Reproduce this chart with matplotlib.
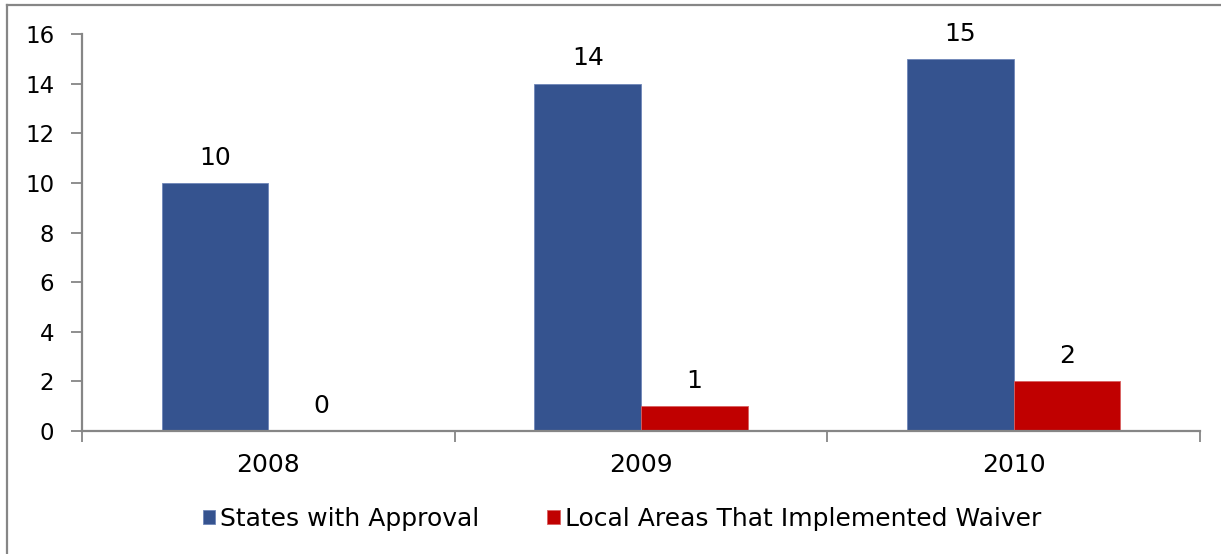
import matplotlib
matplotlib.use("Agg")
import matplotlib.pyplot as plt
from matplotlib.lines import Line2D
import numpy as np

years = ["2008", "2009", "2010"]
states_with_approval = [10, 14, 15]
local_areas_waiver = [0, 1, 2]
series_names = ["States with Approval", "Local Areas That Implemented Waiver"]
y_ticks = [0, 2, 4, 6, 8, 10, 12, 14, 16]

blue = "#35538F"
red = "#C00000"
axis_gray = "#868686"

W, H = 1221, 554
fig = plt.figure(figsize=(W / 100, H / 100), dpi=100)
fig.patch.set_facecolor("white")

# Chart-area frame (top and left edges visible)
fig.add_artist(Line2D([6.5 / W, 6.5 / W], [0, 1 - 5 / H], transform=fig.transFigure,
                      color=axis_gray, lw=1.6))
fig.add_artist(Line2D([6.5 / W, 1], [1 - 5 / H, 1 - 5 / H], transform=fig.transFigure,
                      color=axis_gray, lw=1.6))

ax = fig.add_axes([82 / W, 123 / H, (1200 - 82) / W, (431 - 34) / H])

x = np.arange(len(years))
bw = 0.286
b1 = ax.bar(x - bw / 2, states_with_approval, bw, color=blue, edgecolor="#6F86B8", linewidth=0.6,
            label=series_names[0])
b2 = ax.bar(x + bw / 2, local_areas_waiver, bw, color=red, edgecolor="#D86060", linewidth=0.6,
            label=series_names[1])

for bars, vals in ((b1, states_with_approval), (b2, local_areas_waiver)):
    for rect, v in zip(bars, vals):
        ax.annotate(str(v), (rect.get_x() + rect.get_width() / 2, v),
                    xytext=(0, 9.5), textcoords="offset points",
                    ha="center", va="bottom", fontsize=18, color="black")

ax.set_xlim(-0.5, len(years) - 0.5)
ax.set_ylim(0, 16)
ax.set_yticks(y_ticks)
ax.set_yticklabels([str(t) for t in y_ticks], fontsize=16.5)
ax.set_xticks(x)
ax.set_xticklabels(years, fontsize=18)
ax.tick_params(axis="x", length=0, pad=16)
ax.tick_params(axis="y", length=8, width=1.3, color=axis_gray, pad=12)

# Category boundary ticks on the x axis
ax.set_xticks(np.arange(-0.5, len(years), 1.0), minor=True)
ax.tick_params(axis="x", which="minor", length=8, width=1.3, color=axis_gray)

for s in ("top", "right"):
    ax.spines[s].set_visible(False)
for s in ("left", "bottom"):
    ax.spines[s].set_color(axis_gray)
    ax.spines[s].set_linewidth(1.6)

leg = fig.legend(handles=[b1, b2], labels=series_names, loc="center",
                 bbox_to_anchor=(622 / W, 1 - 519 / H), ncol=2, frameon=False,
                 fontsize=18, handlelength=0.5, handleheight=0.5, handletextpad=0.2,
                 columnspacing=2.7)

fig.savefig("out.png", dpi=100, facecolor="white")
